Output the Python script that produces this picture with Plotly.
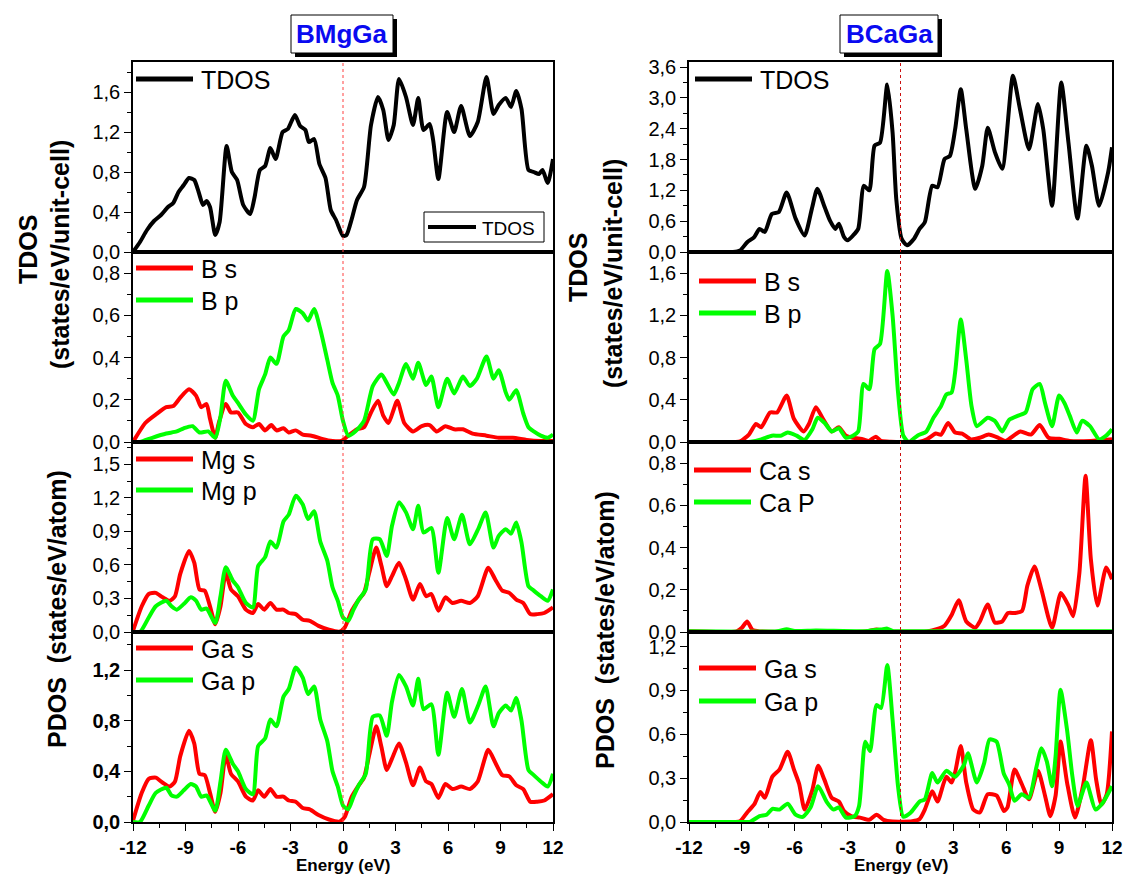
import plotly.graph_objects as go

W, H = 1125, 882
def fx(p): return p / W
def fy(p): return 1 - p / H

FONT = "'Liberation Sans', Arial, sans-serif"
RED = "#FF0000"
GREEN = "#00FF00"

# ---------------- data (energy in eV, DOS values) ----------------
# BMgGa  - total DOS
e_tdos_mg = [-12, -11.6, -11.2, -10.8, -10.4, -10.0, -9.7, -9.4, -9.1, -8.8, -8.5, -8.25, -8.0, -7.8, -7.6, -7.3,
             -7.05, -6.65, -6.35, -6.05, -5.7, -5.3, -5.05, -4.75, -4.45, -4.15, -3.85, -3.45, -3.15, -2.75, -2.45,
             -2.15, -1.95, -1.65, -1.35, -1.0, -0.7, -0.4, 0.0, 0.2, 0.5, 0.8, 1.2, 1.6, 2.0, 2.3, 2.6, 2.9, 3.2,
             3.6, 4.0, 4.3, 4.6, 4.95, 5.15, 5.45, 5.95, 6.35, 6.75, 7.25, 7.7, 8.2, 8.6, 8.9, 9.3, 9.6, 9.9, 10.2,
             10.6, 10.9, 11.2, 11.4, 11.7, 12.0]
tdos_mg = [0, 0.1, 0.22, 0.31, 0.37, 0.45, 0.49, 0.6, 0.67, 0.74, 0.72, 0.6, 0.47, 0.51, 0.45, 0.17,
           0.3, 1.06, 0.8, 0.72, 0.47, 0.38, 0.55, 0.82, 0.86, 1.04, 0.93, 1.2, 1.23, 1.37, 1.26,
           1.22, 1.1, 1.13, 0.88, 0.74, 0.42, 0.32, 0.16, 0.17, 0.33, 0.52, 0.65, 1.27, 1.55, 1.42, 1.12, 1.27, 1.73,
           1.55, 1.27, 1.54, 1.22, 1.28, 1.12, 0.73, 1.4, 1.2, 1.46, 1.16, 1.3, 1.75, 1.38, 1.47, 1.54, 1.45, 1.61, 1.43,
           0.82, 0.8, 0.78, 0.82, 0.69, 0.93]

# BMgGa - B s / B p
e_bs_mg = [-12, -11.3, -10.7, -10.1, -9.7, -9.3, -8.8, -8.4, -8.1, -7.8, -7.6, -7.3, -7.1, -6.7, -6.4, -6.0, -5.55,
           -5.15, -4.8, -4.45, -4.1, -3.8, -3.4, -3.1, -2.7, -2.3, -1.8, -1.2, -0.6, -0.1, 0.3, 0.8, 1.2, 1.6, 2.0,
           2.3, 2.6, 3.1, 3.5, 4.0, 4.5, 4.95, 5.35, 5.85, 6.35, 6.85, 7.4, 8.2, 8.9, 9.7, 10.5, 11.3, 12]
bs_mg = [0, 0.09, 0.13, 0.165, 0.17, 0.21, 0.25, 0.22, 0.165, 0.18, 0.11, 0.02, 0.09, 0.18, 0.14, 0.14, 0.085,
         0.07, 0.085, 0.055, 0.08, 0.055, 0.065, 0.045, 0.055, 0.035, 0.03, 0.015, 0.005, 0.005, 0.03, 0.06, 0.07,
         0.14, 0.195, 0.125, 0.09, 0.195, 0.09, 0.05, 0.075, 0.08, 0.05, 0.075, 0.06, 0.06, 0.04, 0.03, 0.02, 0.02,
         0.01, 0.005, 0.005]
e_bp_mg = [-12, -11.6, -10.9, -10.1, -9.5, -9.1, -8.6, -8.2, -7.7, -7.3, -7.0, -6.7, -6.3, -6.0, -5.55, -5.15, -4.8,
           -4.45, -4.15, -3.8, -3.4, -3.1, -2.7, -2.3, -2.0, -1.65, -1.3, -0.9, -0.6, -0.3, 0, 0.3, 0.7, 1.2, 1.7,
           2.2, 2.5, 2.9, 3.2, 3.6, 4.0, 4.3, 4.75, 5.05, 5.45, 5.95, 6.35, 6.85, 7.25, 7.65, 8.2, 8.6, 8.9, 9.3,
           9.5, 9.9, 10.3, 10.6, 10.9, 11.3, 11.7, 12]
bp_mg = [0, 0, 0.02, 0.04, 0.05, 0.065, 0.075, 0.045, 0.05, 0.02, 0.12, 0.29, 0.22, 0.185, 0.13, 0.10, 0.25,
         0.32, 0.40, 0.37, 0.50, 0.53, 0.63, 0.61, 0.575, 0.63, 0.535, 0.39, 0.28, 0.22, 0.10, 0.03, 0.05, 0.10, 0.265,
         0.32, 0.28, 0.225, 0.28, 0.37, 0.30, 0.375, 0.27, 0.31, 0.165, 0.30, 0.23, 0.31, 0.265, 0.30, 0.405, 0.30,
         0.34, 0.235, 0.20, 0.245, 0.135, 0.07, 0.05, 0.03, 0.02, 0.035]

# BMgGa - Mg s / Mg p
e_mgs = [-12, -11.5, -11.1, -10.7, -10.3, -9.9, -9.6, -9.3, -8.8, -8.5, -8.2, -7.9, -7.6, -7.3, -7.0, -6.7, -6.4,
         -6.0, -5.55, -5.15, -4.85, -4.5, -4.15, -3.8, -3.4, -3.1, -2.7, -2.3, -1.9, -1.4, -0.8, -0.2, 0.1, 0.5, 0.9,
         1.2, 1.5, 1.9, 2.2, 2.5, 2.8, 3.2, 3.6, 4.0, 4.4, 4.75, 5.05, 5.45, 5.85, 6.25, 6.75, 7.25, 7.7, 8.3, 8.7,
         9.1, 9.5, 9.9, 10.3, 10.7, 11.1, 11.5, 12]
mgs = [0.01, 0.23, 0.34, 0.35, 0.31, 0.28, 0.32, 0.52, 0.725, 0.62, 0.38, 0.37, 0.23, 0.07, 0.23, 0.53, 0.38,
       0.32, 0.20, 0.17, 0.25, 0.20, 0.26, 0.20, 0.20, 0.17, 0.16, 0.11, 0.10, 0.055, 0.02, 0.003, 0.04, 0.19, 0.29,
       0.35, 0.53, 0.755, 0.59, 0.41, 0.50, 0.62, 0.47, 0.29, 0.43, 0.32, 0.34, 0.19, 0.31, 0.26, 0.28, 0.26, 0.32,
       0.575, 0.47, 0.37, 0.35, 0.29, 0.26, 0.16, 0.16, 0.17, 0.22]
e_mgp = [-12, -11.6, -11.1, -10.7, -10.1, -9.8, -9.5, -9.1, -8.7, -8.4, -8.1, -7.8, -7.3, -7.0, -6.7, -6.3, -6.0,
         -5.55, -5.15, -4.85, -4.45, -4.15, -3.8, -3.4, -3.1, -2.7, -2.3, -2.0, -1.65, -1.3, -0.9, -0.6, -0.3, 0,
         0.3, 0.6, 0.9, 1.3, 1.7, 2.1, 2.5, 2.8, 3.2, 3.6, 4.0, 4.3, 4.6, 5.05, 5.45, 5.95, 6.35, 6.8, 7.25, 7.75,
         8.15, 8.6, 8.9, 9.3, 9.6, 9.9, 10.2, 10.6, 10.9, 11.3, 11.7, 12]
mgp = [0, 0, 0.13, 0.23, 0.28, 0.23, 0.20, 0.25, 0.31, 0.28, 0.20, 0.21, 0.08, 0.32, 0.58, 0.46, 0.40,
       0.26, 0.22, 0.59, 0.67, 0.81, 0.755, 0.99, 1.05, 1.22, 1.14, 1.01, 1.08, 0.81, 0.64, 0.40, 0.28, 0.13,
       0.10, 0.20, 0.29, 0.38, 0.83, 0.83, 0.68, 0.95, 1.16, 1.07, 0.92, 1.13, 0.89, 0.93, 0.53, 1.02, 0.83, 1.05,
       0.785, 0.93, 1.07, 0.755, 0.86, 0.92, 0.88, 0.98, 0.80, 0.41, 0.37, 0.32, 0.28, 0.38]

# BMgGa - Ga s / Ga p (same shape as Mg panel)
e_gas_mg = [-12, -11.5, -11.1, -10.7, -10.3, -9.9, -9.6, -9.3, -8.8, -8.5, -8.2, -7.9, -7.6, -7.3, -7.0, -6.7, -6.4,
            -6.0, -5.55, -5.15, -4.85, -4.5, -4.15, -3.8, -3.4, -3.1, -2.7, -2.3, -1.9, -1.4, -0.8, -0.2, 0.1, 0.5,
            0.9, 1.2, 1.5, 1.9, 2.2, 2.5, 2.8, 3.2, 3.6, 4.0, 4.4, 4.75, 5.05, 5.45, 5.85, 6.25, 6.75, 7.25, 7.7,
            8.3, 8.7, 9.1, 9.5, 9.9, 10.3, 10.7, 11.1, 11.5, 12]
gas_mg = [0.01, 0.23, 0.34, 0.35, 0.31, 0.28, 0.32, 0.52, 0.72, 0.62, 0.38, 0.37, 0.23, 0.08, 0.23, 0.53, 0.38,
          0.32, 0.20, 0.17, 0.25, 0.20, 0.26, 0.20, 0.20, 0.17, 0.16, 0.11, 0.10, 0.055, 0.02, 0.003, 0.04, 0.2,
          0.29, 0.35, 0.53, 0.755, 0.59, 0.41, 0.50, 0.62, 0.47, 0.29, 0.43, 0.32, 0.30, 0.19, 0.30, 0.26, 0.28,
          0.26, 0.32, 0.57, 0.47, 0.37, 0.36, 0.29, 0.26, 0.16, 0.16, 0.17, 0.22]
e_gap_mg = [-12, -11.6, -11.1, -10.7, -10.1, -9.8, -9.5, -9.1, -8.7, -8.4, -8.1, -7.8, -7.3, -7.0, -6.7, -6.3, -6.0,
            -5.55, -5.15, -4.85, -4.45, -4.15, -3.8, -3.4, -3.1, -2.7, -2.3, -2.0, -1.65, -1.3, -0.9, -0.6, -0.3, 0,
            0.3, 0.6, 0.9, 1.3, 1.7, 2.1, 2.5, 2.8, 3.2, 3.6, 4.0, 4.3, 4.6, 5.05, 5.45, 5.95, 6.35, 6.8, 7.25, 7.75,
            8.15, 8.6, 8.9, 9.3, 9.6, 9.9, 10.2, 10.6, 10.9, 11.3, 11.7, 12]
gap_mg = [0, 0, 0.13, 0.23, 0.27, 0.21, 0.20, 0.25, 0.30, 0.28, 0.20, 0.21, 0.09, 0.32, 0.57, 0.46, 0.40,
          0.26, 0.22, 0.6, 0.66, 0.81, 0.755, 0.99, 1.05, 1.22, 1.14, 1.01, 1.07, 0.81, 0.64, 0.40, 0.28, 0.13,
          0.10, 0.20, 0.29, 0.38, 0.83, 0.84, 0.68, 0.95, 1.16, 1.07, 0.92, 1.13, 0.89, 0.93, 0.53, 1.02, 0.83, 1.05,
          0.785, 0.93, 1.07, 0.755, 0.86, 0.92, 0.88, 0.98, 0.80, 0.41, 0.37, 0.32, 0.28, 0.38]

# BCaGa - total DOS
e_tdos_ca = [-12, -9.5, -9.1, -8.7, -8.3, -8.0, -7.7, -7.3, -6.9, -6.46, -5.95, -5.44, -5.03, -4.72, -4.3, -4.0,
             -3.7, -3.5, -3.2, -3.0, -2.7, -2.4, -2.08, -1.77, -1.47, -1.16, -0.75, -0.45, -0.24, 0.06, 0.37, 0.77,
             1.08, 1.38, 1.8, 2.1, 2.5, 2.8, 3.1, 3.42, 3.73, 4.24, 4.64, 4.95, 5.36, 5.77, 6.38, 6.78, 7.29, 7.8,
             8.1, 8.6, 9.12, 9.53, 10.04, 10.55, 10.86, 11.27, 11.78, 12]
tdos_ca = [0, 0, 0.03, 0.19, 0.29, 0.45, 0.39, 0.74, 0.78, 1.16, 0.65, 0.32, 0.84, 1.23, 0.87, 0.61,
           0.45, 0.55, 0.29, 0.23, 0.32, 0.45, 1.29, 1.2, 2.07, 2.13, 3.26, 2.33, 1.03, 0.26, 0.13, 0.26,
           0.45, 0.58, 1.29, 1.26, 1.81, 1.87, 2.39, 3.17, 2.39, 1.23, 1.68, 2.42, 1.94, 1.62, 3.43, 2.78, 2.0, 2.88,
           2.39, 0.9, 3.3, 2.13, 0.65, 2.07, 1.68, 0.9, 1.55, 2.04]

# BCaGa - B s / B p
e_bs_ca = [-12, -9.4, -9.1, -8.6, -8.2, -7.9, -7.4, -7.0, -6.46, -6.05, -5.5, -5.2, -4.8, -4.4, -3.9, -3.5, -3.1,
           -2.7, -2.1, -1.8, -1.4, -1.1, -0.55, 1.07, 1.5, 2.0, 2.3, 2.7, 3.1, 3.5, 4.0, 4.5, 5.0, 5.55, 5.95, 6.8,
           7.4, 7.9, 8.4, 9.0, 9.6, 10.8, 12]
bs_ca = [0, 0, 0.005, 0.07, 0.17, 0.14, 0.28, 0.28, 0.44, 0.22, 0.10, 0.17, 0.33, 0.22, 0.10, 0.14, 0.06,
         0.04, 0.025, 0.01, 0.05, 0.01, 0.002, 0.002, 0.025, 0.08, 0.07, 0.18, 0.09, 0.08, 0.025, 0.04, 0.07, 0.04,
         0.01, 0.10, 0.07, 0.16, 0.04, 0.03, 0.01, 0.01, 0.025]
e_bp_ca = [-12, -8.8, -8.5, -7.9, -7.3, -6.8, -6.4, -5.9, -5.45, -5.0, -4.7, -4.3, -3.9, -3.5, -3.1, -2.7, -2.4,
           -2.1, -1.77, -1.47, -1.16, -0.75, -0.45, -0.14, 0.16, 0.47, 0.96, 1.47, 1.87, 2.3, 2.6, 2.9, 3.1, 3.42,
           3.73, 4.03, 4.33, 4.95, 5.35, 5.77, 6.17, 6.68, 7.1, 7.5, 7.9, 8.2, 8.6, 9.0, 9.3, 9.6, 10.0, 10.3,
           10.75, 11.27, 11.67, 12]
bp_ca = [0, 0, 0.003, 0.025, 0.06, 0.06, 0.09, 0.06, 0.02, 0.12, 0.23, 0.18, 0.10, 0.13, 0.04, 0.06, 0.10,
         0.55, 0.50, 0.88, 0.93, 1.62, 1.20, 0.47, 0.06, 0.0, 0.06, 0.10, 0.23, 0.34, 0.45, 0.47, 0.66, 1.16,
         0.78, 0.34, 0.15, 0.23, 0.20, 0.10, 0.21, 0.25, 0.28, 0.50, 0.55, 0.37, 0.15, 0.44, 0.37, 0.25, 0.09,
         0.20, 0.15, 0.025, 0.06, 0.12]

# BCaGa - Ca s / Ca P
e_cas = [-12, -9.3, -9.0, -8.7, -8.4, -8.0, -2.0, -1.36, -0.9, 1.5, 2.1, 2.5, 2.9, 3.3, 3.73, 4.24, 4.5, 4.95,
         5.35, 5.77, 6.1, 6.5, 6.9, 7.2, 7.6, 8.0, 8.6, 9.1, 9.53, 9.8, 10.15, 10.5, 10.8, 11.17, 11.67, 12]
cas = [0.003, 0.003, 0.02, 0.05, 0.01, 0.003, 0.003, 0.012, 0.003, 0.003, 0.015, 0.03, 0.08, 0.15, 0.05, 0.02,
       0.05, 0.13, 0.045, 0.05, 0.09, 0.09, 0.10, 0.22, 0.31, 0.20, 0.02, 0.185, 0.125, 0.075, 0.28, 0.74, 0.345,
       0.125, 0.305, 0.25]
e_cap = [-12, -7.0, -6.46, -6.0, -4.8, -2.0, -1.1, -0.75, -0.4, 0, 12]
cap = [0.003, 0.004, 0.013, 0.005, 0.007, 0.004, 0.012, 0.016, 0.004, 0.003, 0.003]

# BCaGa - Ga s / Ga p
e_gas_ca = [-12, -9.4, -9.1, -8.7, -8.3, -7.95, -7.7, -7.27, -6.86, -6.4, -6.05, -5.75, -5.44, -5.0, -4.67, -4.32,
            -3.9, -3.5, -3.2, -2.8, -2.3, -1.77, -1.36, -0.96, -0.45, 0.67, 1.08, 1.38, 1.8, 2.1, 2.6, 2.9, 3.1,
            3.42, 3.73, 4.13, 4.5, 4.95, 5.46, 5.87, 6.07, 6.47, 6.88, 7.29, 7.8, 8.2, 8.5, 8.8, 9.08, 9.45, 9.9,
            10.35, 10.8, 11.1, 11.4, 11.7, 12]
gas_ca = [0, 0, 0.005, 0.065, 0.12, 0.205, 0.165, 0.31, 0.36, 0.48, 0.36, 0.26, 0.085, 0.22, 0.385, 0.29,
          0.165, 0.14, 0.075, 0.04, 0.03, 0.015, 0.05, 0.015, 0.003, 0.005, 0.02, 0.085, 0.21, 0.14, 0.31, 0.27, 0.34,
          0.52, 0.27, 0.085, 0.065, 0.19, 0.18, 0.075, 0.10, 0.36, 0.26, 0.155, 0.35, 0.18, 0.04, 0.18, 0.55, 0.27,
          0.03, 0.245, 0.56, 0.29, 0.12, 0.19, 0.62]
e_gap_ca = [-12, -8.8, -8.5, -8.0, -7.6, -7.27, -6.86, -6.4, -5.95, -5.54, -5.1, -4.67, -4.2, -3.8, -3.5, -3.1,
            -2.6, -2.35, -2.0, -1.73, -1.36, -1.1, -0.75, -0.45, -0.14, 0.16, 0.57, 1.08, 1.38, 1.8, 2.1, 2.6, 3.1,
            3.6, 3.83, 4.33, 4.75, 5.05, 5.45, 5.85, 6.17, 6.47, 6.88, 7.29, 7.7, 8.0, 8.3, 8.6, 8.8, 9.08, 9.45,
            9.75, 10.05, 10.55, 11.06, 11.47, 12]
gap_ca = [0, 0, 0.003, 0.04, 0.05, 0.09, 0.085, 0.125, 0.05, 0.035, 0.10, 0.245, 0.14, 0.085, 0.10, 0.03,
          0.04, 0.11, 0.55, 0.485, 0.80, 0.78, 1.075, 0.70, 0.245, 0.036, 0.064, 0.14, 0.155, 0.335, 0.27, 0.35,
          0.31, 0.39, 0.47, 0.27, 0.405, 0.565, 0.55, 0.335, 0.255, 0.145, 0.19, 0.165, 0.37, 0.505, 0.415, 0.245,
          0.45, 0.905, 0.63, 0.315, 0.11, 0.27, 0.085, 0.13, 0.245]

x_tickvals = [-12, -9, -6, -3, 0, 3, 6, 9, 12]
x_ticktext = ["-12", "-9", "-6", "-3", "0", "3", "6", "9", "12"]

# ---------------- layout geometry (pixels of the 1125x882 page) ----------------
COLS = [(133, 553), (689, 1112)]
ROWS = [(62, 252), (252, 442), (442, 632), (632, 822)]

# (col, row, y_max, dtick, legend line x0, legend row y centres, bold ticks, traces)
panels = [
    (0, 0, 1.9, 0.4, 136, [79], False, [("TDOS", e_tdos_mg, tdos_mg, "black")]),
    (0, 1, 0.9, 0.2, 136, [268, 300], False, [("B s", e_bs_mg, bs_mg, RED), ("B p", e_bp_mg, bp_mg, GREEN)]),
    (0, 2, 1.7, 0.3, 136, [459, 490], False, [("Mg s", e_mgs, mgs, RED), ("Mg p", e_mgp, mgp, GREEN)]),
    (0, 3, 1.5, 0.4, 136, [648, 680], True, [("Ga s", e_gas_mg, gas_mg, RED), ("Ga p", e_gap_mg, gap_mg, GREEN)]),
    (1, 0, 3.7, 0.6, 695, [79], False, [("TDOS", e_tdos_ca, tdos_ca, "black")]),
    (1, 1, 1.8, 0.4, 699, [281, 313], False, [("B s", e_bs_ca, bs_ca, RED), ("B p", e_bp_ca, bp_ca, GREEN)]),
    (1, 2, 0.9, 0.2, 694, [470, 502], False, [("Ca s", e_cas, cas, RED), ("Ca P", e_cap, cap, GREEN)]),
    (1, 3, 1.3, 0.3, 699, [668, 701], False, [("Ga s", e_gas_ca, gas_ca, RED), ("Ga p", e_gap_ca, gap_ca, GREEN)]),
]

fig = go.Figure()
layout = dict(
    width=W, height=H, margin=dict(l=0, r=0, t=0, b=0, autoexpand=False),
    paper_bgcolor="white", plot_bgcolor="white",
    separators=",.", font=dict(family=FONT, color="black"),
    showlegend=False,
)
shapes = []
annotations = []

for i, (col, row, ymax, dt, lg_x, lg_ys, bold, traces) in enumerate(panels):
    n = i + 1
    xa = "xaxis" if n == 1 else f"xaxis{n}"
    ya = "yaxis" if n == 1 else f"yaxis{n}"
    xref = "x" if n == 1 else f"x{n}"
    yref = "y" if n == 1 else f"y{n}"
    x0, x1 = COLS[col]
    y0, y1 = ROWS[row]
    bottom = row == 3
    layout[xa] = dict(
        domain=[fx(x0), fx(x1)], anchor=yref, range=[-12, 12], automargin=False,
        showline=True, mirror=True, linecolor="black", linewidth=1.6,
        showgrid=False, zeroline=False,
        tickvals=x_tickvals, ticktext=x_ticktext,
        ticks="outside" if bottom else "", ticklen=7, tickwidth=1.3, tickcolor="black",
        showticklabels=bottom,
        tickfont=dict(size=19, family=FONT, weight="bold"),
        minor=dict(dtick=1.5, tick0=0, ticks="outside" if bottom else "", ticklen=4, tickwidth=1, tickcolor="black"),
    )
    layout[ya] = dict(
        domain=[fy(y1), fy(y0)], anchor=xref, range=[0, ymax], automargin=False,
        showline=True, mirror=True, linecolor="black", linewidth=1.6,
        showgrid=False, zeroline=False,
        dtick=dt, tick0=0, tickformat=".1f",
        ticks="outside", ticklen=7, tickwidth=1.3, tickcolor="black",
        tickfont=dict(size=20, family=FONT, weight="bold" if bold else "normal"),
        minor=dict(dtick=dt / 2, tick0=0, ticks="outside", ticklen=4, tickwidth=1, tickcolor="black"),
    )
    for (name, xs, ys, color), ly in zip(traces, lg_ys):
        fig.add_trace(go.Scatter(
            x=xs, y=ys, name=name, mode="lines",
            line=dict(color=color, width=4, shape="spline", smoothing=0.6),
            xaxis=xref, yaxis=yref, hoverinfo="skip",
        ))
        # legend entry: line sample + label
        shapes.append(dict(type="line", xref="paper", yref="paper",
                           x0=fx(lg_x), x1=fx(lg_x + 57), y0=fy(ly), y1=fy(ly),
                           line=dict(color=color, width=5)))
        annotations.append(dict(text=name, xref="paper", yref="paper", x=fx(lg_x + 63), y=fy(ly + 1),
                                xanchor="left", yanchor="middle", showarrow=False,
                                font=dict(size=25, family=FONT, color="black")))

# framed TDOS legend (bottom right of BMgGa TDOS panel)
shapes.append(dict(type="rect", xref="paper", yref="paper", x0=fx(424), x1=fx(544), y0=fy(242), y1=fy(212),
                   fillcolor="white", line=dict(color="black", width=1)))
shapes.append(dict(type="line", xref="paper", yref="paper", x0=fx(428), x1=fx(476), y0=fy(227), y1=fy(227),
                   line=dict(color="black", width=4)))
annotations.append(dict(text="TDOS", xref="paper", yref="paper", x=fx(480), y=fy(228),
                        xanchor="left", yanchor="middle", showarrow=False,
                        font=dict(size=19, family=FONT, color="black")))

# Fermi level dotted lines
for col, xref in [(0, "x4"), (1, "x8")]:
    shapes.append(dict(type="line", xref=xref, yref="paper", x0=0, x1=0,
                       y0=fy(ROWS[3][1]), y1=fy(ROWS[0][0]),
                       line=dict(color="#FF4040" if col == 0 else "#CC1010", width=1, dash="dot"), layer="above"))

# titles with drop-shadow boxes
for text, bx0, bx1, cx in [("BMgGa", 291, 393, 342), ("BCaGa", 840, 938, 889)]:
    shapes.append(dict(type="rect", xref="paper", yref="paper",
                       x0=fx(bx0 + 4), x1=fx(bx1 + 4), y0=fy(57), y1=fy(19),
                       fillcolor="black", line=dict(width=0), layer="above"))
    shapes.append(dict(type="rect", xref="paper", yref="paper",
                       x0=fx(bx0), x1=fx(bx1), y0=fy(53), y1=fy(15),
                       fillcolor="white", line=dict(color="black", width=1), layer="above"))
    annotations.append(dict(text=f"<b>{text}</b>", xref="paper", yref="paper", x=fx(cx), y=fy(34),
                            xanchor="center", yanchor="middle", showarrow=False,
                            font=dict(size=26, color="#0A0AF0", family=FONT)))

# y-axis titles
ttl_font = dict(size=25, family=FONT, color="black")
for x_t, y_t, x_s, y_s in [(28, 250, 60, 255), (578, 268, 613, 274)]:
    annotations.append(dict(text="<b>TDOS</b>", xref="paper", yref="paper", x=fx(x_t), y=fy(y_t),
                            textangle=-90, showarrow=False, xanchor="center", yanchor="middle", font=ttl_font))
    annotations.append(dict(text="<b>(states/eV/unit-cell)</b>", xref="paper", yref="paper", x=fx(x_s), y=fy(y_s),
                            textangle=-90, showarrow=False, xanchor="center", yanchor="middle", font=ttl_font))
for x_p, y_p in [(57, 609), (605, 630)]:
    annotations.append(dict(text="<b>PDOS  (states/eV/atom)</b>", xref="paper", yref="paper", x=fx(x_p), y=fy(y_p),
                            textangle=-90, showarrow=False, xanchor="center", yanchor="middle", font=ttl_font))
# x-axis titles
for cx in [343, 901]:
    annotations.append(dict(text="<b>Energy (eV)</b>", xref="paper", yref="paper", x=fx(cx), y=fy(865),
                            showarrow=False, xanchor="center", yanchor="middle",
                            font=dict(size=17, family=FONT, color="black")))

layout["shapes"] = shapes
layout["annotations"] = annotations
fig.update_layout(**layout)
# remove the default 8px body margin so the 1125x882 figure fills the window exactly
fig.write_html("out.html", config={"displayModeBar": False},
               post_script="document.body.style.margin='0';")
